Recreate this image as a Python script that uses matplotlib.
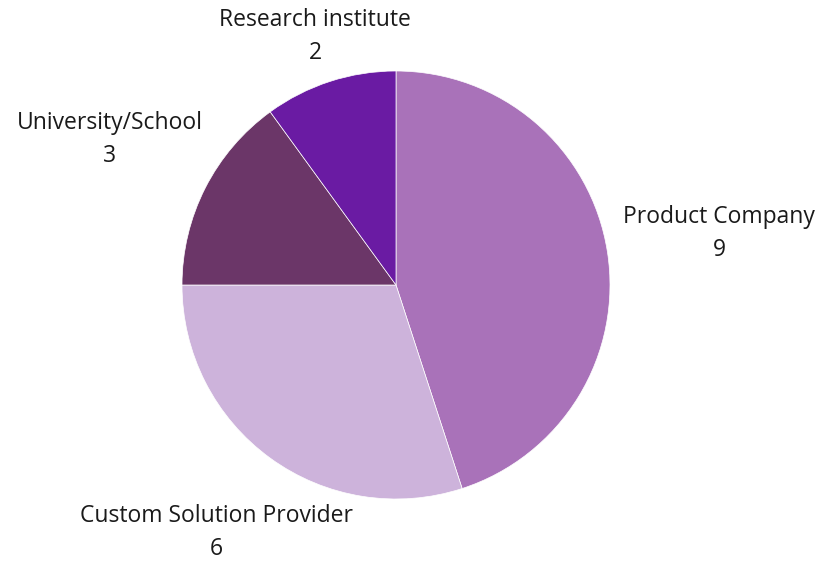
import matplotlib.pyplot as plt
import numpy as np

plt.rcParams['font.family'] = ['Open Sans', 'DejaVu Sans']

categories = ['Product Company', 'Custom Solution Provider', 'University/School', 'Research institute']
values = [9, 6, 3, 2]
colors = ['#a972b9', '#cdb3db', '#6b3668', '#6a1ba3']
# how far out each label sits, in radii
label_dist = [1.53, 1.43, 1.50, 1.22]

fig = plt.figure(figsize=(8.37, 5.63), dpi=100)
ax = fig.add_axes([0, 0, 1, 1])

cx, cy, r = 396, 563 - 285, 214
wedges, _ = ax.pie(values, colors=colors, startangle=90, counterclock=False,
                   center=(cx, cy), radius=r, frame=True,
                   wedgeprops=dict(edgecolor='white', linewidth=0.5))
ax.set_xlim(0, 837)
ax.set_ylim(0, 563)
ax.axis('off')

for w, name, v, d in zip(wedges, categories, values, label_dist):
    ang = np.deg2rad((w.theta1 + w.theta2) / 2)
    x = cx + d * r * np.cos(ang)
    y = cy + d * r * np.sin(ang)
    ax.text(x, y, f'{name}\n{v}', ha='center', va='center', fontsize=16.5,
            color='#1a1a1a', linespacing=1.5)

fig.savefig('out.png', dpi=100)
